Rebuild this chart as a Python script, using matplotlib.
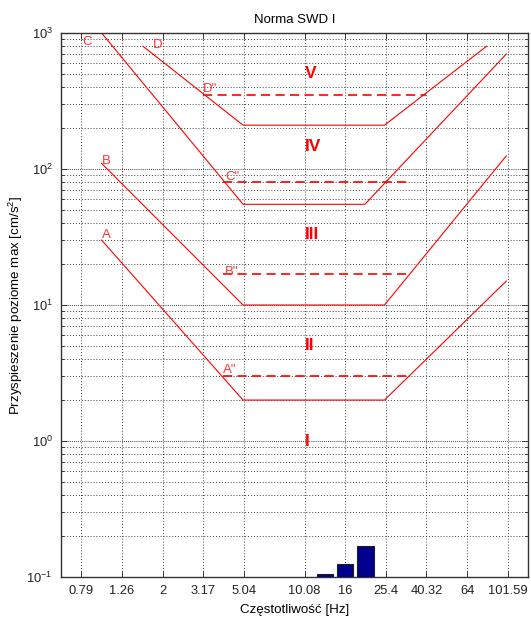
import matplotlib
matplotlib.use("Agg")
import matplotlib.pyplot as plt
import numpy as np
from matplotlib.ticker import LogLocator, NullLocator, LogFormatterSciNotation

plt.rcParams['font.family'] = ['Liberation Sans', 'DejaVu Sans']
plt.rcParams['mathtext.fontset'] = 'custom'
plt.rcParams['mathtext.rm'] = 'Liberation Sans'
plt.rcParams['mathtext.it'] = 'Liberation Sans:italic'
plt.rcParams['axes.unicode_minus'] = False

# Boundary lines of the SWD I scale (frequency [Hz], acceleration [cm/s^2])
freq_A = [1.0, 5.0, 25.0, 100.0]
acc_A = [30, 2, 2, 15]
freq_B = [1.0, 5.0, 25.0, 100.0]
acc_B = [110, 10, 10, 125]
freq_C = [1.0, 5.0, 20.0, 100.0]
acc_C = [1000, 55, 55, 700]
freq_D = [1.6, 5.0, 25.0, 80.0]
acc_D = [800, 210, 210, 800]

# Intermediate (dashed) levels
freq_A2 = [4.0, 32.0]
acc_A2 = [3, 3]
freq_B2 = [4.0, 32.0]
acc_B2 = [17, 17]
freq_C2 = [4.0, 32.0]
acc_C2 = [80, 80]
freq_D2 = [3.17, 40.0]
acc_D2 = [350, 350]

# Measured spectrum (1/3-octave bands)
band_freq = [12.7, 16.0, 20.16]
band_acc = [0.105, 0.125, 0.168]

# Axis ticks
tick_values = [0.7937, 1.26, 2.0, 3.175, 5.04, 10.08, 16.0, 25.4, 40.32, 64.0, 101.59]
tick_labels = ['0.79', '1.26', '2', '3.17', '5.04', '10.08', '16', '25.4', '40.32', '64', '101.59']

# Zone names and their levels
zone_names = ['V', 'IV', 'III', 'II', 'I']
zone_levels = [500, 147, 33, 5, 1]

fig = plt.figure(figsize=(5.31, 6.19), dpi=100)
ax = fig.add_axes([61 / 531, 1 - 577 / 619, (528 - 61) / 531, (577 - 33) / 619])
ax.set_xscale('log')
ax.set_yscale('log')
ax.set_xlim(2 ** (-2 / 3), 128)
ax.set_ylim(0.1, 1000)

red = '#ff0000'
lbl_red = '#ff3434'

for f, a in [(freq_A, acc_A), (freq_B, acc_B), (freq_C, acc_C), (freq_D, acc_D)]:
    ax.plot(f, a, color=red, lw=0.8, solid_joinstyle='miter')

for f, a in [(freq_A2, acc_A2), (freq_B2, acc_B2), (freq_C2, acc_C2), (freq_D2, acc_D2)]:
    ax.plot(f, a, color=red, lw=1.2, linestyle=(0, (5.5, 3.2)))

# Bars spanning 80% of each 1/3-octave band
half = 0.4 / 3
fb = np.array(band_freq)
left = fb * 2 ** (-half)
right = fb * 2 ** (half)
base = 0.05
ax.bar(left, np.array(band_acc) - base, width=right - left, bottom=base,
       align='edge', color='#00008c', edgecolor='#202020', lw=0.8, zorder=3)

# Curve labels
lab_kw = dict(color=lbl_red, fontsize=9.5, ha='left', va='baseline')
ax.text(1.0, 31, 'A', **lab_kw)
ax.text(1.0, 109, 'B', **lab_kw)
ax.text(0.80, 819, 'C', **lab_kw)
ax.text(1.8, 782, 'D', **lab_kw)
ax.text(4.0, 3.18, 'A"', **lab_kw)
ax.text(4.05, 16.6, 'B"', **lab_kw)
ax.text(4.1, 83, 'C"', **lab_kw)
ax.text(3.17, 370, 'D"', **lab_kw)

for name, lev in zip(zone_names, zone_levels):
    ax.text(10.08, lev, name, color=red, fontsize=12.5, fontweight='bold',
            ha='left', va='center')

# Axes styling
ax.set_xticks(tick_values)
ax.set_xticklabels(tick_labels)
ax.xaxis.set_minor_locator(NullLocator())
ax.yaxis.set_major_locator(LogLocator(base=10, numticks=10))
ax.yaxis.set_minor_locator(LogLocator(base=10, subs=np.arange(2, 10), numticks=20))
ax.yaxis.set_major_formatter(LogFormatterSciNotation())

ax.tick_params(which='both', direction='in', top=True, right=True,
               colors='#222222', labelsize=9.3, pad=6)
ax.tick_params(which='major', length=4.5, width=0.6)
ax.tick_params(which='minor', length=2.5, width=0.6)

ax.grid(True, which='major', axis='x', color='k', linestyle=(0, (1, 2.5)), lw=0.6)
ax.grid(True, which='major', axis='y', color='k', linestyle=(0, (1, 1.5)), lw=0.6)
ax.grid(True, which='minor', axis='y', color='k', linestyle=(0, (1, 2.5)), lw=0.6)

for s in ax.spines.values():
    s.set_color('#333333')
    s.set_linewidth(1.0)

ax.set_title('Norma SWD I', fontsize=9.5, pad=7)
ax.set_xlabel('Częstotliwość [Hz]', fontsize=9.6, labelpad=5)
ax.set_ylabel('Przyspieszenie poziome max [cm/s$^2$]', fontsize=9.6)
ax.yaxis.set_label_coords(-0.077, 0.5)

fig.savefig('out.png', dpi=100)
